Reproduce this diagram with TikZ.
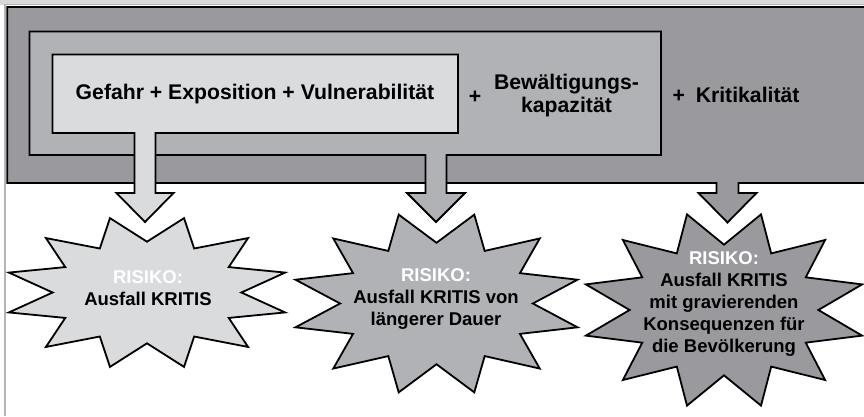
\documentclass[tikz,border=0pt]{standalone}
\usepackage{fontspec}
\setmainfont{Liberation Sans}
\definecolor{bandDark}{HTML}{9A999E}
\definecolor{bandMid}{HTML}{B1B2B6}
\definecolor{bandLight}{HTML}{D9DBDC}
\definecolor{frameLight}{HTML}{D8D8D8}
\definecolor{frameGrey}{HTML}{B4B4B4}
% twelve-point burst, stretched to an ellipse: centre x, centre y, half width, half height, fill
\newcommand\riskburst[5]{%
  \draw[burst, fill=#5] ({#1+#3*cos(15)},{#2+#4*sin(15)})
    \foreach \k in {0,...,11}{
      -- ({#1+0.66*#3*cos(30+30*\k)},{#2+0.66*#4*sin(30+30*\k)})
      -- ({#1+#3*cos(45+30*\k)},{#2+#4*sin(45+30*\k)})
    } -- cycle;}
\begin{document}
\begin{tikzpicture}[x=1pt,y=-1pt,
  outline/.style={draw=black, line width=1.8pt, line join=miter},
  burst/.style={draw=black, line width=1.8pt, line join=miter},
  hdr/.style={inner sep=0pt, font=\fontsize{21.2}{23}\selectfont\bfseries, align=center},
  risk/.style={inner sep=0pt, font=\fontsize{18.5}{22}\selectfont\bfseries, align=center}]
\useasboundingbox (0,0) rectangle (864,416);
\clip (0,0) rectangle (864,416);
\fill[white] (0,0) rectangle (864,416);
% page frame
\fill[frameLight] (0,0) rectangle (864,5);
\draw[frameGrey, line width=2pt] (5,4) -- (5,416);
\draw[frameGrey, line width=1pt] (5,4.8) -- (864,4.8);

% outer band with its arrow to the third burst
\draw[outline, fill=bandDark]
  (870,7) -- (7.3,7) -- (7.3,183) -- (716.5,183) -- (716.5,193) -- (698.5,193)
  -- (727.5,222.5) -- (756.5,193) -- (738.5,193) -- (738.5,183) -- (870,183);
% middle box with its arrow to the second burst
\draw[outline, fill=bandMid]
  (29.5,31.5) -- (661,31.5) -- (661,155) -- (446.5,155) -- (446.5,193)
  -- (465,193) -- (436,222) -- (407,193) -- (425.5,193) -- (425.5,155)
  -- (29.5,155) -- cycle;
% inner box with its arrow to the first burst
\draw[outline, fill=bandLight]
  (52.5,54.5) -- (458,54.5) -- (458,133) -- (155.5,133) -- (155.5,193)
  -- (173.5,193) -- (145,222) -- (116.5,193) -- (134.5,193) -- (134.5,133)
  -- (52.5,133) -- cycle;

% header terms
\node[hdr] (gev) at (255,94) {Gefahr + Exposition + Vulnerabilität};
\node[hdr] (plusA) at (475,97.5) {+};
\node[hdr] (bew) at (566.5,96) {Bewältigungs-\\kapazität};
\node[hdr] (krit) at (736,95) {+\hspace{5pt} Kritikalität};

% risk bursts
\riskburst{147}{292.5}{143}{77}{bandLight}
\riskburst{436.5}{303.5}{146}{92}{bandMid}
\riskburst{724}{310}{143}{99}{bandDark}

\node[risk] (r1) at (148,288) {\textcolor{white}{RISIKO:}\\Ausfall KRITIS};
\node[risk] (r2) at (436,299) {\textcolor{white}{RISIKO:}\\Ausfall KRITIS von\\längerer Dauer};
\node[risk] (r3) at (724,304) {\textcolor{white}{RISIKO:}\\Ausfall KRITIS\\mit gravierenden\\Konsequenzen für\\die Bevölkerung};
\end{tikzpicture}
\end{document}
